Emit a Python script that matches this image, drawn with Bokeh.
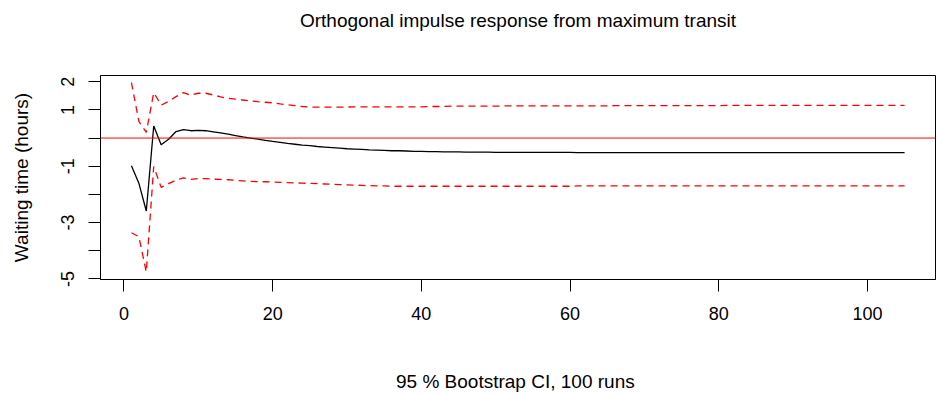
from bokeh.plotting import figure
from bokeh.models import Range1d, FixedTicker, Span, Title
from bokeh.embed import file_html
from bokeh.resources import INLINE

steps = list(range(1, 106))

irf = [
    -0.98, -1.60, -2.59, 0.43, -0.24, -0.04, 0.23, 0.30, 0.26, 0.27,
    0.26, 0.22, 0.18, 0.14, 0.09, 0.04, 0.00, -0.04, -0.08, -0.12,
    -0.15, -0.19, -0.22, -0.25, -0.27, -0.30, -0.32, -0.34, -0.36, -0.38,
    -0.39, -0.40, -0.42, -0.43, -0.44, -0.45, -0.45, -0.46, -0.47, -0.47,
    -0.48, -0.48, -0.49, -0.49, -0.49, -0.50, -0.50, -0.50, -0.50, -0.51,
    -0.51, -0.51, -0.51, -0.51, -0.51, -0.51, -0.51, -0.51, -0.51, -0.51,
    -0.52, -0.52, -0.52, -0.52, -0.52, -0.52, -0.52, -0.52, -0.52, -0.52,
    -0.52, -0.52, -0.52, -0.52, -0.52, -0.52, -0.52, -0.52, -0.52, -0.52,
    -0.52, -0.52, -0.52, -0.52, -0.52, -0.52, -0.52, -0.52, -0.52, -0.52,
    -0.52, -0.52, -0.52, -0.52, -0.52, -0.52, -0.52, -0.52, -0.52, -0.52,
    -0.52, -0.52, -0.52, -0.52, -0.52,
]

upper = [
    1.97, 0.59, 0.20, 1.61, 1.17, 1.30, 1.47, 1.61, 1.52, 1.59,
    1.59, 1.53, 1.46, 1.41, 1.38, 1.35, 1.32, 1.29, 1.27, 1.25,
    1.21, 1.18, 1.15, 1.12, 1.10, 1.10, 1.10, 1.10, 1.10, 1.10,
    1.11, 1.11, 1.11, 1.11, 1.11, 1.11, 1.11, 1.11, 1.11, 1.11,
    1.12, 1.12, 1.12, 1.13, 1.13, 1.13, 1.13, 1.13, 1.13, 1.13,
    1.14, 1.14, 1.14, 1.14, 1.14, 1.14, 1.14, 1.14, 1.14, 1.14,
    1.14, 1.14, 1.14, 1.14, 1.14, 1.15, 1.15, 1.15, 1.15, 1.15,
    1.15, 1.15, 1.15, 1.15, 1.15, 1.15, 1.15, 1.15, 1.15, 1.15,
    1.16, 1.16, 1.16, 1.16, 1.16, 1.16, 1.16, 1.16, 1.16, 1.16,
    1.16, 1.16, 1.16, 1.16, 1.16, 1.16, 1.16, 1.16, 1.16, 1.16,
    1.16, 1.16, 1.16, 1.16, 1.16,
]

lower = [
    -3.36, -3.50, -4.75, -1.01, -1.75, -1.62, -1.49, -1.41, -1.47, -1.44,
    -1.44, -1.46, -1.47, -1.48, -1.50, -1.52, -1.54, -1.55, -1.55, -1.56,
    -1.57, -1.58, -1.59, -1.60, -1.61, -1.62, -1.63, -1.64, -1.65, -1.66,
    -1.67, -1.68, -1.69, -1.70, -1.70, -1.71, -1.71, -1.71, -1.71, -1.71,
    -1.71, -1.71, -1.71, -1.71, -1.71, -1.71, -1.71, -1.71, -1.71, -1.71,
    -1.71, -1.71, -1.71, -1.71, -1.71, -1.71, -1.71, -1.71, -1.71, -1.71,
    -1.70, -1.70, -1.70, -1.70, -1.70, -1.70, -1.70, -1.70, -1.70, -1.70,
    -1.70, -1.70, -1.70, -1.70, -1.70, -1.70, -1.70, -1.70, -1.70, -1.70,
    -1.70, -1.70, -1.70, -1.70, -1.70, -1.70, -1.70, -1.70, -1.70, -1.70,
    -1.70, -1.70, -1.70, -1.70, -1.70, -1.70, -1.70, -1.70, -1.70, -1.70,
    -1.70, -1.70, -1.70, -1.70, -1.70,
]

x_ticks = [0, 20, 40, 60, 80, 100]
y_ticks = [-5, -4, -3, -2, -1, 0, 1, 2]
y_tick_labels = {-5: "-5", -4: "", -3: "-3", -2: "", -1: "-1", 0: "", 1: "1", 2: "2"}

title_text = "Orthogonal impulse response from maximum transit"
x_label = "95 % Bootstrap CI,  100 runs"
y_label = "Waiting time (hours)"

FONT = "Liberation Sans"

p = figure(
    width=937, height=396,
    output_backend="svg", toolbar_location=None,
    x_range=Range1d(-3.16, 109.16), y_range=Range1d(-5.02, 2.22),
    min_border_left=100, min_border_right=2,
    min_border_top=75, min_border_bottom=117,
)
p.background_fill_color = "white"
p.border_fill_color = "white"
p.outline_line_color = "black"
p.outline_line_width = 1
p.xgrid.visible = False
p.ygrid.visible = False

# spacer between frame and title, then the title itself (stacked outward)
p.add_layout(Title(text=" ", text_font_size="1px", standoff=37), "above")
p.add_layout(Title(
    text=title_text, align="center", vertical_align="bottom", standoff=10,
    text_font=FONT, text_font_size="19px", text_font_style="normal",
    text_color="black",
), "above")

for ax in (p.xaxis[0], p.yaxis[0]):
    ax.axis_line_color = "black"
    ax.major_tick_line_color = "black"
    ax.major_tick_out = 12
    ax.major_tick_in = 0
    ax.minor_tick_line_color = None
    ax.major_label_text_font = FONT
    ax.major_label_text_font_size = "18px"
    ax.major_label_text_color = "black"
    ax.axis_label_text_font = FONT
    ax.axis_label_text_font_size = "19px"
    ax.axis_label_text_font_style = "normal"
    ax.axis_label_text_color = "black"

p.xaxis[0].ticker = FixedTicker(ticks=x_ticks)
p.xaxis[0].major_label_standoff = 15
p.xaxis[0].axis_label = x_label
p.xaxis[0].axis_label_standoff = 48

p.yaxis[0].ticker = FixedTicker(ticks=y_ticks)
p.yaxis[0].major_label_overrides = y_tick_labels
p.yaxis[0].major_label_orientation = "parallel"
p.yaxis[0].major_label_standoff = 14
p.yaxis[0].axis_label = y_label
p.yaxis[0].axis_label_standoff = 27

p.line(steps, irf, line_color="black", line_width=1.3)
p.line(steps, upper, line_color="red", line_width=1.3, line_dash="7 5")
p.line(steps, lower, line_color="red", line_width=1.3, line_dash="7 5")
p.add_layout(Span(location=0, dimension="width", line_color="red", line_width=1))

open("out.html", "w").write(file_html(p, INLINE))
